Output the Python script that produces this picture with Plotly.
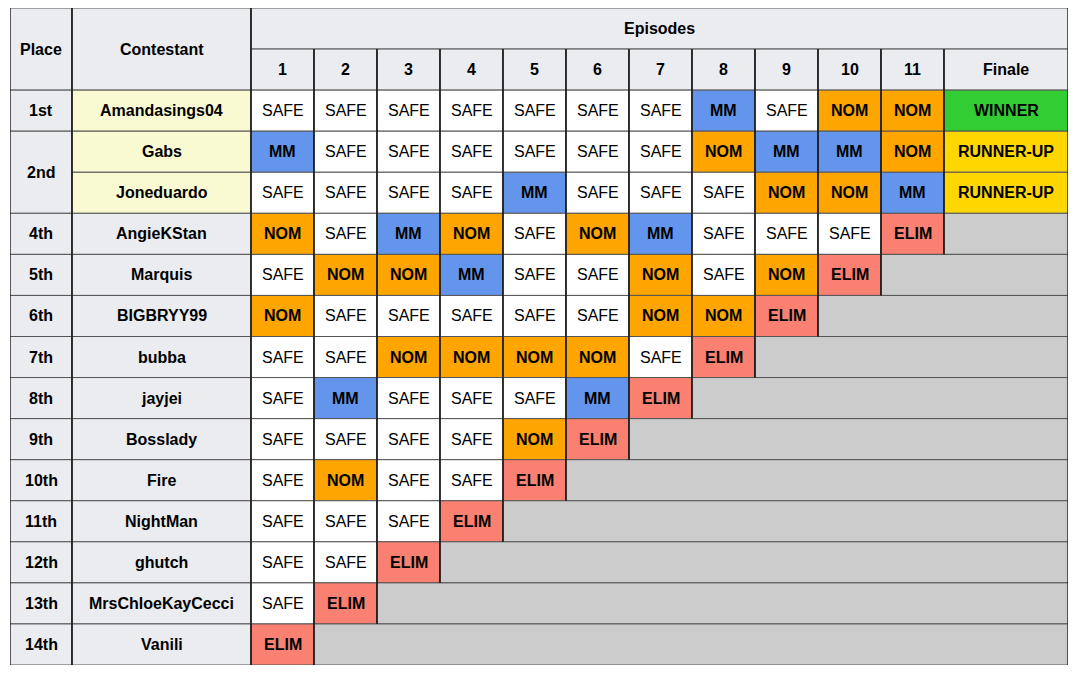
import plotly.graph_objects as go

episodes = ["1", "2", "3", "4", "5", "6", "7", "8", "9", "10", "11", "Finale"]
contestants = ["Amandasings04", "Gabs", "Joneduardo", "AngieKStan", "Marquis",
               "BIGBRYY99", "bubba", "jayjei", "Bosslady", "Fire", "NightMan",
               "ghutch", "MrsChloeKayCecci", "Vanili"]
places = ["1st", "2nd", "2nd", "4th", "5th", "6th", "7th", "8th", "9th",
          "10th", "11th", "12th", "13th", "14th"]
finalists = ["Amandasings04", "Gabs", "Joneduardo"]
results = [
    ["SAFE", "SAFE", "SAFE", "SAFE", "SAFE", "SAFE", "SAFE", "MM", "SAFE", "NOM", "NOM", "WINNER"],
    ["MM", "SAFE", "SAFE", "SAFE", "SAFE", "SAFE", "SAFE", "NOM", "MM", "MM", "NOM", "RUNNER-UP"],
    ["SAFE", "SAFE", "SAFE", "SAFE", "MM", "SAFE", "SAFE", "SAFE", "NOM", "NOM", "MM", "RUNNER-UP"],
    ["NOM", "SAFE", "MM", "NOM", "SAFE", "NOM", "MM", "SAFE", "SAFE", "SAFE", "ELIM"],
    ["SAFE", "NOM", "NOM", "MM", "SAFE", "SAFE", "NOM", "SAFE", "NOM", "ELIM"],
    ["NOM", "SAFE", "SAFE", "SAFE", "SAFE", "SAFE", "NOM", "NOM", "ELIM"],
    ["SAFE", "SAFE", "NOM", "NOM", "NOM", "NOM", "SAFE", "ELIM"],
    ["SAFE", "MM", "SAFE", "SAFE", "SAFE", "MM", "ELIM"],
    ["SAFE", "SAFE", "SAFE", "SAFE", "NOM", "ELIM"],
    ["SAFE", "NOM", "SAFE", "SAFE", "ELIM"],
    ["SAFE", "SAFE", "SAFE", "ELIM"],
    ["SAFE", "SAFE", "ELIM"],
    ["SAFE", "ELIM"],
    ["ELIM"],
]

status_colors = {
    "SAFE": "#FFFFFF", "MM": "#6495ED", "NOM": "#FFA500", "ELIM": "#FA8072",
    "WINNER": "#32CD32", "RUNNER-UP": "#FFD700",
}
header_bg = "#EAECF0"
finalist_bg = "#FAFAD2"
out_bg = "#CCCCCC"

# column widths (px-like units): Place, Contestant, 11 episodes, Finale
col_w = [62, 179] + [63] * 11 + [124]
edges = [0]
for w in col_w:
    edges.append(edges[-1] + w)
n_rows = 2 + len(contestants)

shapes = []
annotations = []
FONT = "Arial, Liberation Sans, sans-serif"


def cell(c0, c1, r0, r1, fill, text="", bold=True):
    x0, x1 = edges[c0], edges[c1]
    shapes.append(dict(type="rect", xref="x", yref="y", x0=x0, x1=x1, y0=r0, y1=r1,
                       fillcolor=fill, line=dict(color="#555555", width=1), layer="below"))
    for xv in (x0, x1):
        shapes.append(dict(type="line", xref="x", yref="y", x0=xv, x1=xv, y0=r0, y1=r1,
                           line=dict(color="#111111", width=1)))
    if text:
        annotations.append(dict(x=(x0 + x1) / 2, y=(r0 + r1) / 2, xref="x", yref="y",
                                text=text, showarrow=False,
                                font=dict(family=FONT, size=16, color="#000000",
                                          weight="bold" if bold else "normal")))


# header
cell(0, 1, 0, 2, header_bg, "Place")
cell(1, 2, 0, 2, header_bg, "Contestant")
cell(2, 14, 0, 1, header_bg, "Episodes")
for i, ep in enumerate(episodes):
    cell(2 + i, 3 + i, 1, 2, header_bg, ep)

# place column with merged spans
i = 0
while i < len(places):
    j = i
    while j + 1 < len(places) and places[j + 1] == places[i]:
        j += 1
    cell(0, 1, 2 + i, 3 + j, header_bg, places[i])
    i = j + 1

# contestant and results
for r, (name, res) in enumerate(zip(contestants, results)):
    row = 2 + r
    cell(1, 2, row, row + 1, finalist_bg if name in finalists else header_bg, name)
    for k, s in enumerate(res):
        cell(2 + k, 3 + k, row, row + 1, status_colors[s], s, bold=(s != "SAFE"))
    if len(res) < len(episodes):
        cell(2 + len(res), 2 + len(episodes), row, row + 1, out_bg)

fig = go.Figure()
fig.add_trace(go.Scatter(x=[0, edges[-1]], y=[0, n_rows], mode="markers",
                         marker=dict(opacity=0), hoverinfo="skip", showlegend=False))
fig.update_layout(
    width=1061, height=661,
    margin=dict(l=2, r=1, t=0, b=4),
    paper_bgcolor="white", plot_bgcolor="white",
    shapes=shapes, annotations=annotations,
    xaxis=dict(range=[0, edges[-1]], visible=False, fixedrange=True),
    yaxis=dict(range=[n_rows, 0], visible=False, fixedrange=True),
)
fig.write_html("out.html", config={"displayModeBar": False})
